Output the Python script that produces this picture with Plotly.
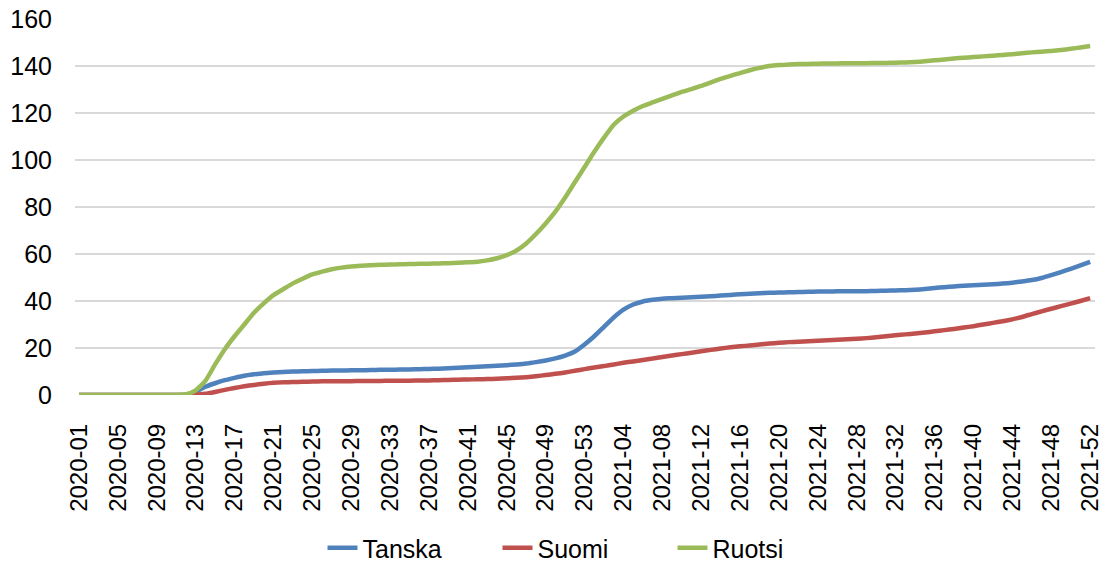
import plotly.graph_objects as go

weeks = [f"2020-{w:02d}" for w in range(1, 54)] + [f"2021-{w:02d}" for w in range(1, 53)]

tanska = [0]*12 + [
    1.5, 3.5, 5, 6.3, 7.3, 8.2, 8.8, 9.3, 9.6, 9.8,
    10, 10.1, 10.2, 10.3, 10.4, 10.4, 10.5, 10.5, 10.6, 10.7,
    10.7, 10.8, 10.9, 11, 11.1, 11.2, 11.4, 11.6, 11.8, 12,
    12.2, 12.4, 12.7, 13, 13.4, 14, 14.7, 15.6, 16.8, 18.5,
    21.5, 25, 29, 33, 36.3, 38.5, 39.8, 40.5, 41, 41.2,
    41.4, 41.6, 41.8, 42, 42.3, 42.6, 42.9, 43.1, 43.3, 43.5,
    43.6, 43.7, 43.8, 43.9, 44, 44, 44.1, 44.1, 44.2, 44.2,
    44.3, 44.4, 44.5, 44.6, 44.8, 45.1, 45.5, 45.9, 46.2, 46.5,
    46.7, 46.9, 47.1, 47.4, 47.8, 48.3, 48.9, 49.8, 51, 52.3,
    53.7, 55.2, 56.7]

suomi = [0]*12 + [
    0.1, 0.5, 1.3, 2.2, 3, 3.7, 4.3, 4.8, 5.2, 5.4,
    5.5, 5.6, 5.7, 5.8, 5.8, 5.9, 5.9, 6, 6, 6,
    6.1, 6.1, 6.1, 6.2, 6.2, 6.3, 6.4, 6.5, 6.6, 6.7,
    6.8, 6.9, 7.1, 7.3, 7.6, 8, 8.5, 9, 9.6, 10.3,
    11, 11.7, 12.3, 13, 13.7, 14.3, 14.9, 15.5, 16.2, 16.8,
    17.4, 18, 18.6, 19.2, 19.8, 20.3, 20.7, 21.1, 21.5, 21.9,
    22.2, 22.5, 22.7, 22.9, 23.1, 23.3, 23.5, 23.7, 23.9, 24.2,
    24.6, 25, 25.4, 25.8, 26.2, 26.6, 27.1, 27.6, 28.1, 28.7,
    29.3, 30, 30.7, 31.4, 32.2, 33.2, 34.4, 35.6, 36.7, 37.8,
    38.9, 40, 41.2]

ruotsi = [0]*11 + [
    0.3, 2, 6, 13, 19.5, 25, 30, 35, 39, 42.5,
    45, 47.5, 49.5, 51.3, 52.5, 53.5, 54.2, 54.7, 55, 55.2,
    55.4, 55.5, 55.6, 55.7, 55.8, 55.9, 56, 56.1, 56.3, 56.5,
    56.7, 57.3, 58.2, 59.5, 61.5, 64.5, 68.5, 73, 78, 84,
    90.5, 97, 103.5, 109.5, 115, 118.5, 121, 123, 124.5, 126,
    127.5, 129, 130.2, 131.5, 133, 134.5, 135.8, 137, 138.2, 139.2,
    140, 140.4, 140.6, 140.8, 140.9, 141, 141.1, 141.1, 141.2, 141.2,
    141.2, 141.3, 141.3, 141.4, 141.5, 141.7, 142, 142.4, 142.8, 143.2,
    143.5, 143.8, 144.1, 144.4, 144.7, 145, 145.4, 145.8, 146.1, 146.4,
    146.8, 147.3, 147.9, 148.5]

assert len(weeks) == len(tanska) == len(suomi) == len(ruotsi) == 105

names = ["Tanska", "Suomi", "Ruotsi"]
colors = ["#4F81BD", "#C0504D", "#9BBB59"]
series = [tanska, suomi, ruotsi]

fig = go.Figure()
for n, c, s in zip(names, colors, series):
    fig.add_trace(go.Scatter(x=list(range(len(weeks))), y=s, name=n, mode="lines",
                             line=dict(color=c, width=4.5, shape="spline", smoothing=0.5)))

tickvals = list(range(0, len(weeks), 4))
fig.update_layout(
    width=1103, height=563,
    margin=dict(l=75, r=8, t=19, b=168, autoexpand=False),
    paper_bgcolor="white", plot_bgcolor="white",
    font=dict(family="Liberation Sans, Arial, sans-serif", size=25, color="black"),
    xaxis=dict(tickmode="array", tickvals=tickvals, ticktext=[weeks[i] for i in tickvals],
               tickangle=-90, range=[-0.41, 104.5], showgrid=False, zeroline=False,
               showline=False, ticks="", tickfont=dict(size=24), ticklabelstandoff=23,
               automargin=False, ticklabeloverflow="allow"),
    yaxis=dict(range=[0, 160], dtick=20, showgrid=True, gridcolor="#D9D9D9", gridwidth=1.5,
               zeroline=False, showline=False, ticks="", tickfont=dict(size=25),
               ticklabelstandoff=22, automargin=False),
    legend=dict(orientation="h", x=0.5, xanchor="center", yref="container",
                y=15/563, yanchor="middle",
                font=dict(size=25), entrywidth=130, entrywidthmode="pixels"),
    showlegend=True,
)
fig.write_html("out.html")
